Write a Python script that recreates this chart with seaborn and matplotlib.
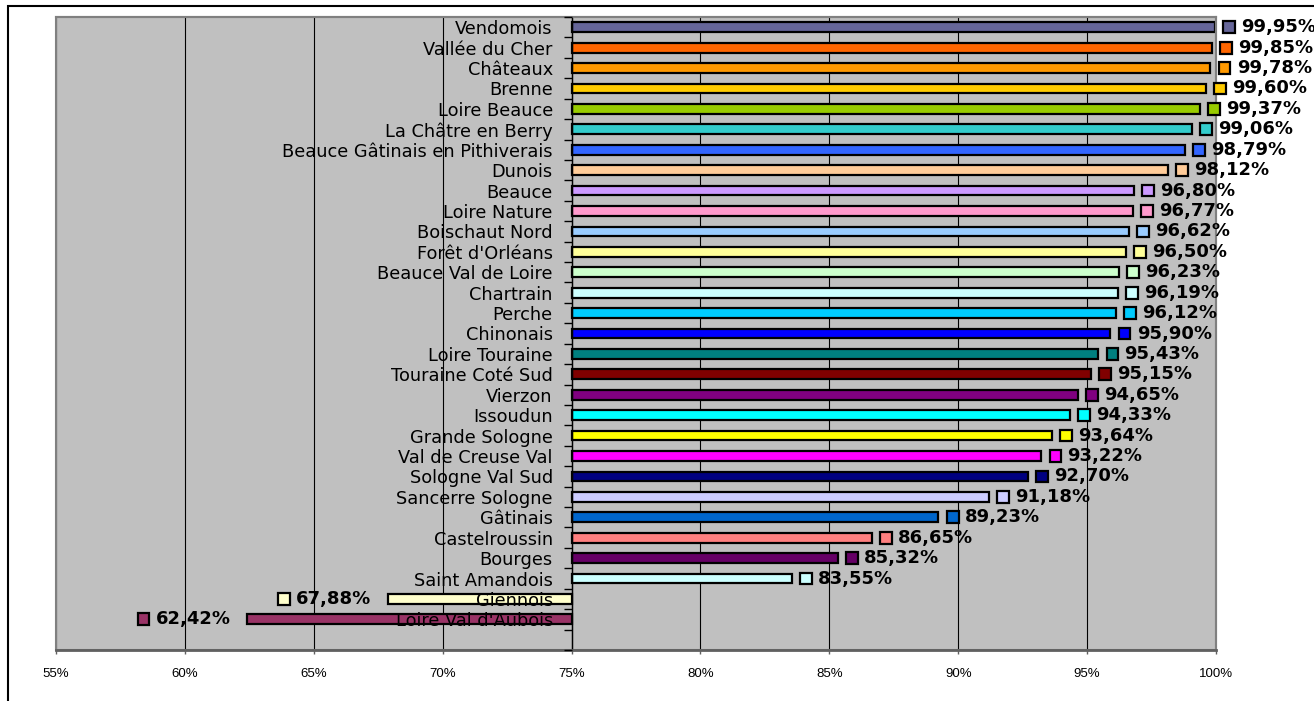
import matplotlib
matplotlib.use('Agg')
import matplotlib.pyplot as plt
from matplotlib.patches import Rectangle
from matplotlib.offsetbox import DrawingArea, TextArea, HPacker, AnnotationBbox
from matplotlib.ticker import FuncFormatter
import seaborn as sns
import pandas as pd


regions = ['Vendomois', 'Vallée du Cher', 'Châteaux', 'Brenne', 'Loire Beauce',
           'La Châtre en Berry', 'Beauce Gâtinais en Pithiverais', 'Dunois', 'Beauce',
           'Loire Nature', 'Boischaut Nord', "Forêt d'Orléans", 'Beauce Val de Loire',
           'Chartrain', 'Perche', 'Chinonais', 'Loire Touraine', 'Touraine Coté Sud',
           'Vierzon', 'Issoudun', 'Grande Sologne', 'Val de Creuse Val', 'Sologne Val Sud',
           'Sancerre Sologne', 'Gâtinais', 'Castelroussin', 'Bourges', 'Saint Amandois',
           'Giennois', "Loire Val d'Aubois"]
rates = [99.95, 99.85, 99.78, 99.60, 99.37, 99.06, 98.79, 98.12, 96.80, 96.77,
         96.62, 96.50, 96.23, 96.19, 96.12, 95.90, 95.43, 95.15, 94.65, 94.33,
         93.64, 93.22, 92.70, 91.18, 89.23, 86.65, 85.32, 83.55, 67.88, 62.42]
colors = ['#666699', '#FF6600', '#FF9900', '#FFCC00', '#99CC00', '#33CCCC', '#3366FF',
          '#FFCC99', '#CC99FF', '#FF99CC', '#99CCFF', '#FFFF99', '#CCFFCC', '#CCFFFF',
          '#00CCFF', '#0000FF', '#008080', '#800000', '#800080', '#00FFFF', '#FFFF00',
          '#FF00FF', '#000080', '#CCCCFF', '#0066CC', '#FF8080', '#660066', '#CCFFFF',
          '#FFFFCC', '#993366']
base = 75          # les barres partent de 75 %
x_ticks = [55, 60, 65, 70, 75, 80, 85, 90, 95, 100]

df = pd.DataFrame({'region': regions, 'rate': rates})
df['ecart'] = df['rate'] - base

sns.set_style('white', {'axes.facecolor': '#C0C0C0'})
plt.rcParams['font.family'] = ['DejaVu Sans']

fig, ax = plt.subplots(figsize=(13.14, 7.01), dpi=100)
fig.subplots_adjust(left=56/1314, right=1216/1314, top=1-17/701, bottom=1-650/701)

sns.barplot(data=df, x='ecart', y='region', hue='region', palette=colors, legend=False,
            orient='h', width=0.48, edgecolor='black', linewidth=1.6, saturation=1, ax=ax)

n = len(regions)
ax.set_xlim(x_ticks[0] - base, x_ticks[-1] - base)
ax.set_ylim(n + 0.5, -0.5)
ax.set(xlabel='', ylabel='')

# axe des x : pourcentages
ax.set_xticks([t - base for t in x_ticks])
ax.xaxis.set_major_formatter(FuncFormatter(lambda t, pos: f'{t + base:.0f}%'))
ax.tick_params(axis='x', bottom=True, direction='out', length=3.2, width=1,
               color='#606060', pad=10, labelsize=9.5, labelcolor='black')
for lbl in ax.get_xticklabels():
    lbl.set_family('Liberation Sans')
ax.xaxis.grid(True, color='black', linewidth=0.8)
ax.set_axisbelow(True)

# axe des y à 75 %, avec les noms
ax.spines['left'].set_position(('data', 0))
ax.spines['left'].set_color('black')
ax.spines['left'].set_linewidth(1)
ax.set_yticks([i - 0.5 for i in range(n + 2)], labels=[])
ax.set_yticks(range(n), labels=regions, minor=True)
ax.tick_params(axis='y', which='major', left=True, direction='out', length=5.8,
               width=1, color='black')
ax.tick_params(axis='y', which='minor', left=True, length=0, pad=13.5, labelsize=12.8,
               labelcolor='black')
ax.yaxis.set_zorder(3)

for side in ['top', 'right']:
    ax.spines[side].set_color('#808080')
    ax.spines[side].set_linewidth(1.5)
ax.spines['bottom'].set_color('#606060')
ax.spines['bottom'].set_linewidth(2)
ax.add_patch(Rectangle((0, 0), 1, 1, transform=ax.transAxes, fill=False,
                       edgecolor='#808080', linewidth=1.5, clip_on=False, zorder=2.4))

# étiquettes de valeur avec le petit carré de couleur
for i, (rate, color) in enumerate(zip(rates, colors)):
    gap = rate - base
    square = DrawingArea(8.5, 8.5)
    square.add_artist(Rectangle((0, 0), 8.5, 8.5, facecolor=color, edgecolor='black', linewidth=1.6))
    text = TextArea(f'{rate:.2f}%'.replace('.', ','),
                    textprops=dict(fontsize=13, fontweight='bold', color='black'))
    pack = HPacker(children=[square, text], sep=4.5, align='center', pad=0)
    if gap >= 0:
        xybox, align = (6, 0), (0, 0.5)
    else:
        xybox, align = (-12, 0), (1, 0.5)
    ab = AnnotationBbox(pack, (gap, i), xybox=xybox, boxcoords='offset points',
                        box_alignment=align, frameon=False, pad=0, annotation_clip=False)
    ab.set_zorder(4)
    ax.add_artist(ab)

fig.add_artist(Rectangle((8/1314, -0.05), 1.1, 1 - 6/701 + 0.05, transform=fig.transFigure,
                         fill=False, edgecolor='black', linewidth=1.5))

fig.savefig('out.png', dpi=100)
